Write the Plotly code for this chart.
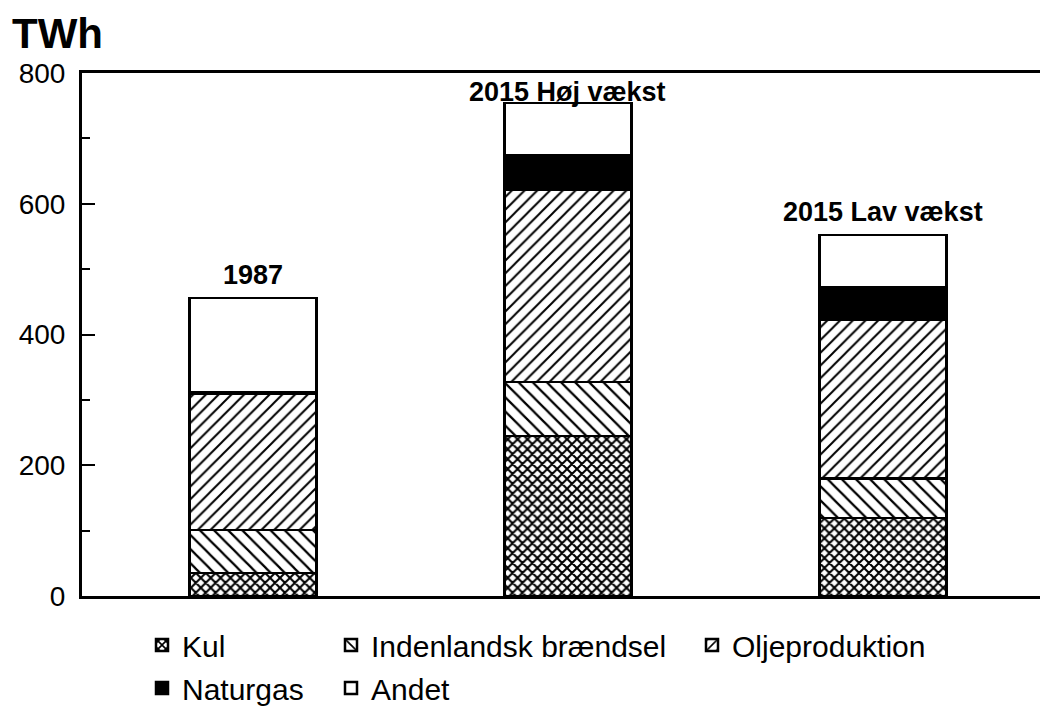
import plotly.graph_objects as go

categories = ["1987", "2015 Høj vækst", "2015 Lav vækst"]
kul = [35, 245, 119]
indenlandsk = [66, 82, 61]
olje = [209, 294, 242]
naturgas = [2, 53, 50]
andet = [144, 80, 80]
y_ticks = [0, 200, 400, 600, 800]
y_minor = [100, 300, 500, 700]

series = [
    ("Kul", kul, dict(fillmode="replace", bgcolor="white", fgcolor="black", shape="x", size=7, solidity=0.5)),
    ("Indenlandsk brændsel", indenlandsk, dict(fillmode="replace", bgcolor="white", fgcolor="black", shape="\\", size=10, solidity=0.22)),
    ("Oljeproduktion", olje, dict(fillmode="replace", bgcolor="white", fgcolor="black", shape="/", size=9, solidity=0.22)),
    ("Naturgas", naturgas, None),
    ("Andet", andet, None),
]
colors = {"Naturgas": "black", "Andet": "white"}
legend_ids = ["legend", "legend2", "legend3", "legend4", "legend5"]

FONT = "Liberation Sans"

fig = go.Figure()
for (name, vals, pat), lid in zip(series, legend_ids):
    marker = dict(line=dict(color="black", width=2.5))
    if pat:
        marker["color"] = "white"
        marker["pattern"] = pat
    else:
        marker["color"] = colors[name]
    fig.add_trace(go.Bar(x=categories, y=vals, name=name, marker=marker,
                         width=0.403, legend=lid))

totals = [sum(v) for v in zip(kul, indenlandsk, olje, naturgas, andet)]
label_shift = [6, -6, 6]
for i, (c, t) in enumerate(zip(categories, totals)):
    fig.add_annotation(x=i, y=t, text="<b>%s</b>" % c, showarrow=False,
                       yanchor="bottom", yshift=label_shift[i],
                       font=dict(family=FONT, size=27, color="black"))

# page body has an 8px margin: plot area lands at page x=82, y=73
fig.add_annotation(xref="paper", yref="paper", x=-72 / 966, y=1 + 14 / 523,
                   xanchor="left", yanchor="bottom", text="<b>TWh</b>", showarrow=False,
                   font=dict(family=FONT, size=42, color="black"))


def lx(px):
    return (px - 82) / 966


def ly(py):
    return -(py - 596) / 523


leg_pos = [(lx(142), ly(645)), (lx(331), ly(645)), (lx(692), ly(645)),
           (lx(142), ly(688)), (lx(331), ly(688))]
layout_legends = {}
for lid, (x, y) in zip(legend_ids, leg_pos):
    layout_legends[lid] = dict(x=x, y=y, xanchor="left", yanchor="middle",
                               orientation="h", bgcolor="rgba(0,0,0,0)",
                               font=dict(family=FONT, size=30, color="black"),
                               itemwidth=30)

fig.update_layout(
    width=1040, height=699,
    margin=dict(l=74, r=0, t=65, b=111, autoexpand=False),
    plot_bgcolor="white", paper_bgcolor="white",
    barmode="stack",
    showlegend=True,
    font=dict(family=FONT, color="black"),
    xaxis=dict(type="category", range=[-0.543, 2.524], showline=True, linecolor="black",
               linewidth=3, mirror=True, showticklabels=False, ticks="", showgrid=False,
               zeroline=False, automargin=False),
    yaxis=dict(range=[0, 800], tickvals=y_ticks, showline=True,
               linecolor="black", linewidth=3, ticks="inside", ticklen=13, tickwidth=2,
               tickcolor="black", showgrid=False, zeroline=False, automargin=False,
               tickfont=dict(family=FONT, size=28, color="black"),
               minor=dict(tickvals=y_minor, ticks="inside", ticklen=8,
                          tickwidth=1.5, tickcolor="black"),
               ticklabelstandoff=8),
    **layout_legends,
)

fig.write_html("out.html")
